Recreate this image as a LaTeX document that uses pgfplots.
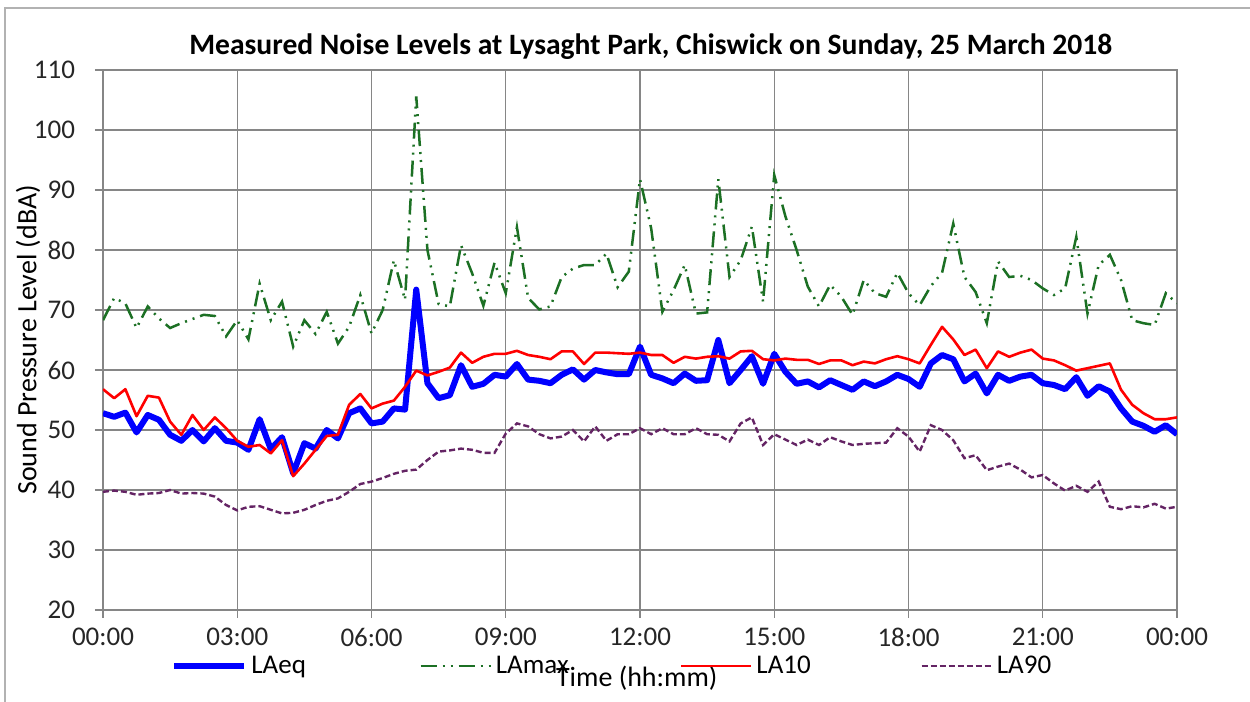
\documentclass[border=0pt]{standalone}
\usepackage{fontspec}
\setmainfont{Carlito}
\usepackage{pgfplots}
\pgfplotsset{compat=1.18}
\usepackage{pgfplotstable}

\definecolor{gridgray}{RGB}{134,134,134}
\definecolor{maxgreen}{RGB}{28,112,36}
\definecolor{purp}{RGB}{100,36,100}

% 15-minute values, t in hours
\pgfplotstableread{
t LAeq LAmax LA10 LA90
0.00 52.8 68.3 56.8 39.7
0.25 52.2 72.0 55.3 39.9
0.50 52.9 71.1 56.8 39.7
0.75 49.6 67.0 52.3 39.2
1.00 52.5 70.6 55.7 39.4
1.25 51.7 68.6 55.4 39.5
1.50 49.2 67.0 51.4 40.0
1.75 48.2 67.8 49.2 39.4
2.00 50.0 68.5 52.5 39.5
2.25 48.1 69.2 50.0 39.4
2.50 50.3 69.0 52.1 38.9
2.75 48.2 65.6 50.3 37.5
3.00 47.9 68.3 48.2 36.6
3.25 46.7 65.1 47.2 37.2
3.50 51.8 74.4 47.5 37.3
3.75 46.8 68.3 46.1 36.7
4.00 48.8 71.4 48.3 36.1
4.25 42.8 63.9 42.3 36.2
4.50 47.8 68.3 44.4 36.7
4.75 46.9 66.0 46.7 37.5
5.00 50.0 69.7 49.0 38.2
5.25 48.6 64.4 49.2 38.6
5.50 52.8 67.2 54.2 39.7
5.75 53.6 72.5 56.0 41.0
6.00 51.1 66.1 53.6 41.4
6.25 51.4 70.0 54.4 42.0
6.50 53.6 78.3 54.9 42.7
6.75 53.4 71.7 57.2 43.2
7.00 73.4 105.6 59.9 43.4
7.25 57.8 80.0 59.1 45.0
7.50 55.3 71.0 59.7 46.4
7.75 55.8 70.6 60.4 46.6
8.00 60.8 80.8 62.9 46.9
8.25 57.2 76.1 61.2 46.7
8.50 57.7 70.7 62.2 46.2
8.75 59.2 77.9 62.7 46.2
9.00 58.9 72.8 62.7 49.4
9.25 61.0 83.8 63.2 51.1
9.50 58.4 72.0 62.5 50.6
9.75 58.2 70.1 62.2 49.3
10.00 57.8 70.6 61.8 48.6
10.25 59.2 75.5 63.1 48.9
10.50 60.1 76.9 63.1 50.0
10.75 58.4 77.5 61.0 48.1
11.00 60.0 77.5 62.9 50.6
11.25 59.6 79.4 62.9 48.2
11.50 59.3 73.8 62.8 49.3
11.75 59.3 76.4 62.7 49.3
12.00 63.9 91.8 62.9 50.3
12.25 59.2 83.6 62.5 49.3
12.50 58.6 69.7 62.5 50.3
12.75 57.8 73.3 61.2 49.3
13.00 59.4 77.5 62.2 49.3
13.25 58.2 69.4 61.9 50.3
13.50 58.3 69.6 62.2 49.3
13.75 65.0 91.8 62.3 49.2
14.00 57.8 75.5 61.9 48.1
14.25 60.0 78.3 63.1 51.1
14.50 62.3 83.9 63.2 52.1
14.75 57.7 71.4 61.8 47.5
15.00 62.7 92.5 61.6 49.3
15.25 59.7 85.6 61.9 48.4
15.50 57.7 80.0 61.7 47.5
15.75 58.1 73.9 61.7 48.4
16.00 57.1 70.6 61.0 47.5
16.25 58.3 74.2 61.6 48.8
16.50 57.5 72.2 61.6 48.1
16.75 56.7 69.2 60.8 47.5
17.00 58.1 75.0 61.4 47.7
17.25 57.3 72.8 61.1 47.8
17.50 58.1 72.2 61.8 47.9
17.75 59.2 76.2 62.3 50.3
18.00 58.5 72.8 61.8 48.9
18.25 57.2 70.8 61.1 46.4
18.50 61.1 74.0 64.2 50.8
18.75 62.5 76.2 67.2 50.0
19.00 61.8 84.4 65.1 48.3
19.25 58.1 75.5 62.5 45.3
19.50 59.4 73.0 63.4 45.8
19.75 56.1 67.8 60.3 43.3
20.00 59.2 78.1 63.1 43.9
20.25 58.2 75.5 62.2 44.4
20.50 58.9 75.7 62.9 43.4
20.75 59.2 75.0 63.4 42.1
21.00 57.8 73.6 61.9 42.5
21.25 57.5 72.5 61.6 41.1
21.50 56.8 73.6 60.8 39.9
21.75 58.8 82.2 59.9 40.7
22.00 55.7 69.4 60.3 39.7
22.25 57.3 77.5 60.7 41.4
22.50 56.4 79.2 61.1 37.2
22.75 53.6 75.0 56.7 36.8
23.00 51.4 68.3 54.2 37.3
23.25 50.7 67.8 52.8 37.1
23.50 49.7 67.5 51.8 37.7
23.75 50.8 72.8 51.8 36.9
24.00 49.3 71.1 52.1 37.2
}\noisedata

\begin{document}
\begin{tikzpicture}
\useasboundingbox (0,0) rectangle (625pt,351pt);
\draw[gray!60, line width=0.8pt] (2.5pt,0pt) -- (2.5pt,347pt) -- (626pt,347pt);
\begin{axis}[
    at={(51.5pt,46pt)}, anchor=south west,
    scale only axis, width=537pt, height=270pt,
    xmin=0, xmax=24, ymin=20, ymax=110,
    xtick={0,3,...,24}, ytick={20,30,...,110},
    xticklabels={00:00,03:00,06:00,09:00,12:00,15:00,18:00,21:00,00:00},
    grid=major,
    major grid style={gridgray, line width=0.6pt},
    axis line style={gridgray, line width=0.6pt},
    tick style={gridgray, line width=0.6pt},
    tick align=outside, tick pos=left, major tick length=4pt,
    /pgf/number format/assume math mode=true,
    ticklabel style={font=\fontsize{13.5}{15}\selectfont, text=black!85},
    yticklabel style={xshift=-6.5pt},
    xticklabel style={yshift=-1.5pt},
    no markers,
    title={Measured Noise Levels at Lysaght Park, Chiswick on Sunday, 25 March 2018},
    title style={font=\bfseries\fontsize{14.8}{16}\selectfont, at={(0.510,1.022)}, anchor=center},
    xlabel={Time (hh:mm)},
    xlabel style={font=\fontsize{14}{15}\selectfont, at={(0.497,-0.126)}, anchor=center},
    ylabel={Sound Pressure Level (dBA)},
    ylabel style={font=\fontsize{14}{15}\selectfont, at={(-0.0698,0.5)}, anchor=center},
    legend columns=4,
    legend image code/.code={\draw[#1] (0pt,0pt) -- (35pt,0pt);},
    legend style={draw=none, fill=none, at={(0.0577,-0.1037)}, anchor=west,
        font=\fontsize{13.5}{15}\selectfont},
]
\addplot[blue, line width=3pt, line join=round] table[x=t, y=LAeq] {\noisedata};
\addplot[maxgreen, line width=1.25pt, dash pattern=on 8pt off 3pt on 1pt off 3pt on 1pt off 3pt] table[x=t, y=LAmax] {\noisedata};
\addplot[red, line width=1.3pt, line join=round] table[x=t, y=LA10] {\noisedata};
\addplot[purp, line width=1.2pt, dash pattern=on 3pt off 1.5pt] table[x=t, y=LA90] {\noisedata};
\legend{\makebox[82pt][l]{LAeq}, \makebox[90pt][l]{LAmax}, \makebox[80pt][l]{LA10}, LA90}
\end{axis}
\end{tikzpicture}
\end{document}
